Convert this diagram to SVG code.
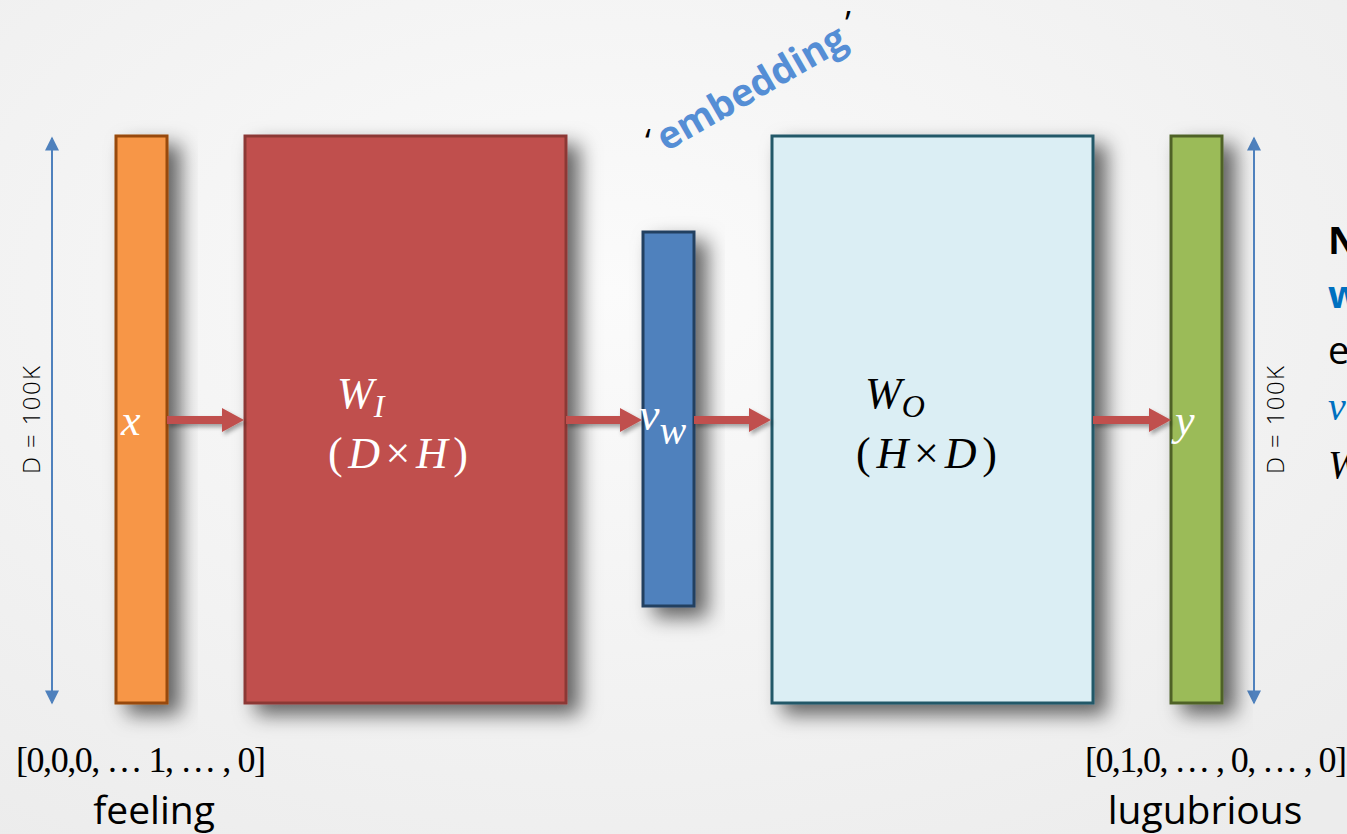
<svg xmlns="http://www.w3.org/2000/svg" width="1347" height="834" viewBox="0 0 1347 834">
<defs>
<radialGradient id="bg" cx="0.45" cy="0.35" r="0.8">
<stop offset="0" stop-color="#fbfbfb"/>
<stop offset="1" stop-color="#ececec"/>
</radialGradient>
<filter id="sh" x="-40%" y="-10%" width="200%" height="130%">
<feDropShadow dx="12" dy="10" stdDeviation="10" flood-color="#000" flood-opacity="0.6"/>
</filter>
<filter id="ash" x="-20%" y="-50%" width="140%" height="250%">
<feDropShadow dx="2" dy="3" stdDeviation="2" flood-color="#000" flood-opacity="0.35"/>
</filter>
<marker id="bh" viewBox="0 0 10 10" refX="9" refY="5" markerWidth="8" markerHeight="7" orient="auto-start-reverse">
<path d="M0,0 L10,5 L0,10 z" fill="#4f81bd"/>
</marker>
</defs>
<style>
.dim{stroke:#4f81bd;stroke-width:2;fill:none}
.dtxt{font-family:"Open Sans","Liberation Sans",sans-serif;font-weight:300;font-size:24px;fill:#000}
.math{font-family:"Liberation Serif","DejaVu Serif",serif;font-style:italic;fill:#fff}
.mathn{font-family:"Liberation Serif","DejaVu Serif",serif;fill:#fff}
.lab{font-family:"Liberation Serif","DejaVu Serif",serif;font-size:36px;fill:#000}
.word{font-family:"Open Sans","Liberation Sans",sans-serif;font-size:39px;fill:#000}
.side{font-family:"Open Sans","Liberation Sans",sans-serif;font-size:38px}
.quote{font-family:"Open Sans","Liberation Sans",sans-serif;font-size:34px;fill:#000}
.arr{fill:#c0504d}
</style>
<rect width="1347" height="834" fill="url(#bg)"/>

<g id="dim-left">
<line class="dim" x1="52" y1="138" x2="52" y2="703" marker-start="url(#bh)" marker-end="url(#bh)"/>
<text class="dtxt" transform="translate(40,420) rotate(-90)" text-anchor="middle" textLength="108">D = 100K</text>
</g>
<g id="dim-right">
<line class="dim" x1="1254" y1="138" x2="1254" y2="703" marker-start="url(#bh)" marker-end="url(#bh)"/>
<text class="dtxt" transform="translate(1284,420) rotate(-90)" text-anchor="middle" textLength="108">D = 100K</text>
</g>

<g id="node-x">
<rect x="116" y="136" width="51" height="567" fill="#f79646" stroke="#984807" stroke-width="3" filter="url(#sh)"/>
<text class="math" x="121" y="435" font-size="44">x</text>
</g>
<g id="node-WI">
<rect x="245" y="136" width="321" height="567" fill="#c0504d" stroke="#8c3836" stroke-width="3" filter="url(#sh)"/>
<text class="math" x="337" y="408" font-size="44">W<tspan font-size="32" dy="9">I</tspan></text>
<text class="mathn" x="328" y="468" font-size="44" textLength="140">(<tspan font-style="italic">D</tspan>×<tspan font-style="italic">H</tspan>)</text>
</g>
<g id="node-vw">
<rect x="643" y="232" width="51" height="374" fill="#4f81bd" stroke="#243f60" stroke-width="3" filter="url(#sh)"/>
<text class="math" x="639" y="430" font-size="46">v<tspan font-size="40" dy="14">w</tspan></text>
</g>
<g id="node-WO">
<rect x="772" y="136" width="321" height="567" fill="#dbeef4" stroke="#215968" stroke-width="3" filter="url(#sh)"/>
<text class="math" x="865" y="408" font-size="44" style="fill:#000">W<tspan font-size="32" dy="9">O</tspan></text>
<text class="mathn" x="856" y="468" font-size="44" textLength="141" style="fill:#000">(<tspan font-style="italic">H</tspan>×<tspan font-style="italic">D</tspan>)</text>
</g>
<g id="node-y">
<rect x="1171" y="136" width="51" height="567" fill="#9bbb59" stroke="#4f6228" stroke-width="3" filter="url(#sh)"/>
<text class="math" x="1175" y="435" font-size="44">y</text>
</g>

<g id="connectors" filter="url(#ash)">
<path class="arr" d="M167,416 L222,416 L222,408 L244,420 L222,432 L222,424 L167,424 z"/>
<path class="arr" d="M566,416 L620,416 L620,408 L642,420 L620,432 L620,424 L566,424 z"/>
<path class="arr" d="M694,416 L749,416 L749,408 L771,420 L749,432 L749,424 L694,424 z"/>
<path class="arr" d="M1093,416 L1149,416 L1149,408 L1171,420 L1149,432 L1149,424 L1093,424 z"/>
</g>

<g id="embedding-label">
<text class="quote" x="645" y="154">‘</text>
<text transform="translate(666,152) rotate(-30)" font-family="Open Sans, Liberation Sans, sans-serif" font-size="38" font-weight="bold" fill="#558ed5" textLength="212">embedding</text>
<text class="quote" x="845" y="36">’</text>
</g>

<g id="labels-left">
<text class="lab" x="16" y="772" textLength="250">[0,0,0, … 1, … , 0]</text>
<text class="word" x="154" y="824" text-anchor="middle">feeling</text>
</g>
<g id="labels-right">
<text class="lab" x="1085" y="772" textLength="262">[0,1,0, … , 0, … , 0]</text>
<text class="word" x="1205" y="824" text-anchor="middle">lugubrious</text>
</g>

<g id="side-text">
<text class="side" x="1328" y="254" font-weight="bold" fill="#000">N</text>
<text class="side" x="1328" y="308" font-weight="bold" fill="#0070c0">w</text>
<text class="side" x="1328" y="364" fill="#000">e</text>
<text x="1328" y="420" font-family="Liberation Serif, serif" font-style="italic" font-size="40" fill="#0070c0">v</text>
<text x="1328" y="478" font-family="Liberation Serif, serif" font-style="italic" font-size="40" fill="#000">W</text>
</g>
</svg>
